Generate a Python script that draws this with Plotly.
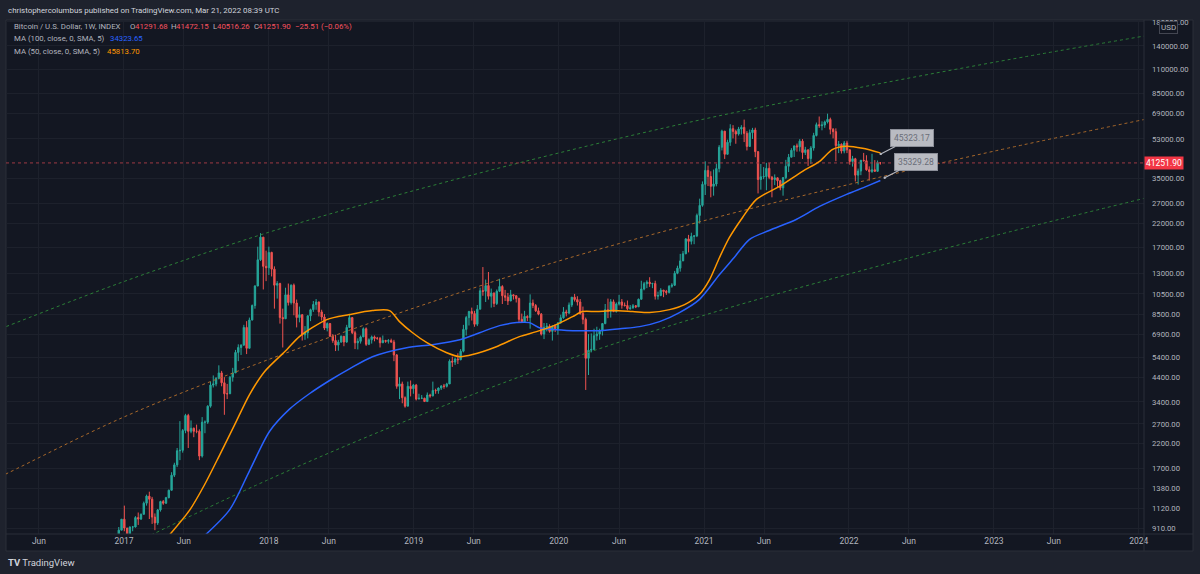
import math
import pandas as pd
import plotly.graph_objects as go

FONT = "Roboto, Liberation Sans, sans-serif"

# ---------------- weekly OHLC (BTCUSD INDEX, 1W) ----------------
first_week = "2016-10-03"
first_open = 610

close_2016 = [615, 640, 655, 700, 705, 700, 730, 730, 765, 775, 790, 890, 998]
high_2016 = [620, 645, 660, 720, 745, 715, 760, 750, 775, 780, 795, 920, 1000]
low_2016 = [605, 610, 625, 650, 680, 690, 690, 725, 725, 750, 765, 790, 890]

close_2017 = [910, 820, 920, 920, 1015, 1000, 1050, 1180, 1270, 1230, 1020, 960, 1100,
              1200, 1180, 1250, 1350, 1580, 1760, 2040, 2050, 2520, 2950, 2500, 2580, 2500,
              2500, 1930, 2750, 2750, 3250, 4050, 4100, 4350, 4600, 4150, 3700, 3700, 4400,
              4600, 5700, 6000, 6150, 7400, 5950, 8000, 9300, 11400, 15000, 19000, 14000, 13800]
high_2017 = [1150, 910, 925, 930, 1030, 1070, 1060, 1200, 1290, 1330, 1260, 1060, 1110,
             1210, 1220, 1260, 1360, 1630, 1800, 2100, 2780, 2560, 3000, 3000, 2800, 2600,
             2680, 2550, 2900, 2800, 3280, 4200, 4480, 4400, 4980, 4700, 4400, 4100, 4450,
             4850, 5850, 6200, 6200, 7600, 7900, 8200, 9400, 11500, 17200, 19800, 19000, 16500]
low_2017 = [880, 760, 820, 880, 915, 940, 990, 1050, 1150, 1000, 950, 890, 940,
            1080, 1160, 1170, 1240, 1350, 1550, 1720, 1850, 2000, 2450, 2100, 2450, 2350,
            2450, 1850, 1900, 2450, 2700, 3200, 3950, 4000, 4300, 4000, 2970, 3500, 3700,
            4200, 4600, 5200, 5550, 6100, 5600, 5950, 7950, 9000, 11400, 14800, 11000, 12000]

close_2018 = [16200, 13600, 11500, 11700, 8200, 8100, 10400, 9600, 11500, 9550, 8200, 8450, 6850,
              7000, 8350, 8900, 9400, 9650, 8700, 8250, 7350, 7700, 6750, 6450, 6150, 6350,
              6750, 6350, 7400, 8200, 7000, 6300, 6400, 6700, 7300, 6200, 6500, 6700, 6600,
              6600, 6300, 6450, 6400, 6450, 6350, 5550, 4000, 4100, 3550, 3250, 4000, 3900]
high_2018 = [17200, 16300, 14000, 12000, 11800, 9000, 11200, 11700, 11600, 11700, 9900, 9200, 8500,
             7500, 8400, 9000, 9750, 9950, 9700, 8900, 8500, 7800, 7750, 6900, 6850, 6500,
             6800, 6750, 7600, 8500, 8200, 7150, 6600, 6800, 7400, 7400, 6600, 6800, 6800,
             6700, 6700, 6800, 6500, 6550, 6580, 6500, 5600, 4400, 4200, 3600, 4200, 4250]
low_2018 = [12800, 12600, 9000, 10000, 7700, 6000, 8100, 9300, 9400, 8400, 7400, 7800, 6450,
            6500, 6600, 7900, 8700, 8900, 8300, 7950, 7200, 7100, 6700, 6300, 5780, 5800,
            6300, 6080, 6300, 7400, 6900, 5900, 5880, 6250, 6700, 6100, 6150, 6250, 6400,
            6500, 6000, 6300, 6300, 6250, 6300, 5200, 3900, 3500, 3350, 3200, 3250, 3600]

close_2019 = [4050, 3500, 3530, 3530, 3410, 3650, 3620, 3830, 3820, 3930, 4010, 4000, 4100,
              5200, 5150, 5320, 5280, 5770, 7250, 8200, 8740, 8550, 7650, 8950, 10850, 10800,
              11450, 10250, 10600, 9500, 10800, 11350, 10300, 10150, 9750, 10400, 10300, 10000, 8050,
              7850, 8300, 8200, 9550, 9300, 8800, 8500, 6900, 7400, 7500, 7100, 7500, 7300]
high_2019 = [4100, 4100, 3700, 3650, 3550, 3750, 3700, 4200, 3900, 3950, 4050, 4100, 4150,
             5300, 5450, 5400, 5650, 5900, 7600, 8350, 8800, 9100, 8800, 9350, 11200, 13900,
             12200, 13200, 11100, 10650, 11000, 12300, 11500, 10950, 10600, 10950, 10450, 10350, 10100,
             8550, 8800, 8400, 10450, 9900, 9450, 9100, 8600, 7750, 7750, 7650, 7550, 7650]
low_2019 = [3700, 3450, 3500, 3500, 3400, 3400, 3550, 3600, 3700, 3700, 3850, 3900, 3950,
            4100, 4900, 5000, 5050, 5250, 5700, 6800, 7550, 7950, 7450, 7500, 8950, 10300,
            9650, 9900, 9100, 9150, 9350, 10700, 9450, 9750, 9350, 9750, 9900, 9600, 7750,
            7750, 7800, 7900, 7300, 9050, 8700, 8400, 6800, 6550, 7100, 7000, 6450, 7050]

close_2020 = [7760, 8180, 8700, 8600, 9350, 10150, 9900, 9650, 8550, 8050, 5360, 5830, 5880,
              6780, 6900, 7120, 7700, 8900, 8750, 9670, 8720, 9450, 9650, 9330, 9300, 9000,
              9070, 9280, 9180, 9930, 11050, 11680, 11870, 11680, 11700, 10250, 10330, 10920, 10780,
              10670, 11380, 11500, 13030, 13740, 14820, 15970, 18650, 18180, 19150, 19250, 23850, 26490]
high_2020 = [7800, 8450, 9150, 8900, 9600, 10150, 10500, 10250, 9950, 9200, 8200, 6900, 6950,
             7300, 7450, 7300, 7750, 9450, 10000, 9950, 9900, 9600, 10400, 9950, 9600, 9800,
             9350, 9450, 9350, 10000, 12050, 11900, 12100, 12500, 11800, 12050, 10750, 11150, 10950,
             10950, 11500, 11750, 13350, 14100, 15950, 16450, 18800, 19450, 19900, 19400, 24300, 28400]
low_2020 = [6850, 7700, 8100, 8300, 8500, 9150, 9700, 9300, 8450, 7650, 3850, 4500, 5700,
            5850, 6450, 6500, 6800, 7650, 8150, 8200, 8700, 8650, 9300, 9000, 9200, 8850,
            8900, 9000, 9050, 9150, 9900, 10900, 11150, 11300, 11150, 9900, 9900, 10250, 10150,
            10400, 10550, 11200, 11400, 12900, 13250, 14800, 15900, 16200, 17600, 17650, 19000, 21900]

close_2021 = [33000, 38150, 35800, 32300, 33100, 38900, 48600, 57500, 45150, 51200, 59000, 57350, 55800,
              58800, 59800, 56150, 49000, 56600, 58200, 46400, 34700, 35700, 35800, 39000, 35500, 34700,
              35300, 34250, 31800, 35400, 39850, 43800, 47100, 49300, 48800, 51800, 46000, 47300, 43200,
              48200, 54950, 61500, 60900, 61300, 63300, 65000, 58600, 57200, 49400, 50100, 46700, 50800]
high_2021 = [34000, 41950, 40100, 37800, 38500, 40950, 49700, 58350, 57500, 52600, 61800, 61200, 58400,
             60100, 61200, 64850, 57500, 58500, 59500, 59600, 46600, 40800, 39500, 41300, 41300, 36000,
             36600, 35400, 34600, 35400, 42600, 45300, 48150, 49300, 50500, 52900, 52900, 48800, 47400,
             49200, 56500, 62900, 67000, 63700, 64200, 69000, 66200, 59400, 59200, 51900, 50600, 51900]
low_2021 = [26100, 29500, 32400, 28800, 29300, 32300, 37400, 47000, 43000, 45000, 49300, 53300, 50400,
            54900, 55500, 51300, 47000, 48800, 53000, 43800, 30000, 31200, 34800, 31000, 34800, 28800,
            32700, 32100, 31000, 29300, 34800, 37500, 43800, 43900, 46400, 46500, 43000, 44800, 40000,
            40800, 46900, 54400, 59500, 58000, 59500, 62300, 55600, 53300, 42000, 45700, 45500, 45600]

close_2022 = [47300, 41900, 43100, 36300, 37900, 42400, 42200, 38400, 37700, 38400, 37800, 41291.68, 41251.90]
high_2022 = [52000, 47600, 44400, 43500, 38900, 42600, 45800, 44700, 39800, 45400, 42500, 42300, 41472.15]
low_2022 = [45700, 40500, 39700, 34000, 32900, 36300, 41900, 38000, 34300, 37200, 37600, 37600, 40516.26]

# ---------------- moving averages ----------------
ma50_dates = ["2017-04-24", "2017-06-16", "2017-07-23", "2017-08-30", "2017-10-07", "2017-11-13",
              "2017-12-21", "2018-02-15", "2018-03-19", "2018-05-27", "2018-07-23", "2018-09-19",
              "2018-11-01", "2018-11-26", "2018-12-29", "2019-02-03", "2019-03-25", "2019-04-27",
              "2019-05-29", "2019-07-28", "2019-09-24", "2019-11-06", "2019-12-26", "2020-02-05",
              "2020-03-01", "2020-04-05", "2020-05-15", "2020-07-05", "2020-08-17", "2020-10-06",
              "2020-11-13", "2020-12-20", "2021-01-15", "2021-02-09", "2021-03-06", "2021-04-08",
              "2021-05-13", "2021-07-10", "2021-09-06", "2021-10-19", "2021-11-21", "2021-12-26",
              "2022-02-04", "2022-03-21"]
ma50_values = [840, 1100, 1430, 1950, 2680, 3660, 4660, 5860, 6720, 8030, 8460, 8820,
               8820, 7860, 7000, 6310, 5680, 5450, 5570, 6050, 6720, 7080, 7620, 8280,
               8730, 8730, 8820, 8730, 8640, 8910, 9390, 10430, 12200, 15360, 18930, 23340,
               28180, 32280, 37780, 41950, 47560, 49090, 48070, 45810]

ma100_dates = ["2017-07-10", "2017-09-24", "2017-11-13", "2018-01-03", "2018-02-22", "2018-04-13",
               "2018-06-03", "2018-07-23", "2018-09-19", "2018-12-14", "2019-02-17", "2019-04-27",
               "2019-06-16", "2019-08-05", "2019-09-17", "2019-10-19", "2019-11-13", "2019-12-26",
               "2020-02-22", "2020-04-13", "2020-06-03", "2020-07-23", "2020-09-11", "2020-10-31",
               "2020-12-20", "2021-02-09", "2021-03-18", "2021-04-25", "2021-06-14", "2021-08-21",
               "2021-10-19", "2021-12-26", "2022-02-14", "2022-03-21"]
ma100_values = [800, 1100, 1650, 2500, 3150, 3700, 4250, 4800, 5450, 5990, 6180, 6510,
                7000, 7540, 7780, 7780, 7380, 7230, 7150, 7150, 7300, 7460, 7860, 8640,
                9890, 12860, 15360, 18530, 20370, 22850, 26190, 29690, 32280, 34320]

# ---------------- channel drawings ----------------
channel_dates = ["2016-01-01", "2016-03-10", "2017-01-01", "2018-01-01", "2019-01-01",
                 "2020-01-01", "2021-01-01", "2022-01-01", "2023-01-01", "2024-01-14"]
upper_channel = [6657, 7459, 11950, 20000, 30890, 45770, 65240, 88720, 118000, 155200]
middle_channel = [1396, 1601, 2903, 5297, 9057, 14800, 22570, 32940, 46640, 64900]
lower_dates = ["2017-01-01", "2018-01-01", "2019-01-01", "2020-01-01", "2021-01-01",
               "2022-01-01", "2023-01-01", "2024-01-14"]
lower_channel = [737, 1512, 2880, 5117, 8402, 12920, 19260, 28480]

# ---------------- labels ----------------
last_price = 41251.90
callout_dates = ["2022-03-22", "2022-04-01"]
callout_prices = [45323.17, 35329.28]

header_text = "christophercolumbus published on TradingView.com, Mar 21, 2022 08:39 UTC"
symbol_text = "Bitcoin / U.S. Dollar, 1W, INDEX"
ohlc_letters = ["O", "H", "L", "C"]
ohlc_values = ["41291.68", "41472.15", "40516.26", "41251.90"]
change_text = "\u221225.51 (\u22120.06%)"
ma_labels = ["MA (100, close, 0, SMA, 5)", "MA (50, close, 0, SMA, 5)"]
ma_values_text = ["34323.65", "45813.70"]

y_ticks = [910, 1120, 1380, 1700, 2200, 2700, 3400, 4400, 5400, 6900, 8500, 10500, 13000,
           17000, 22000, 27000, 35000, 53000, 69000, 85000, 110000, 140000, 180000]
x_tick_dates = ["2016-06-01", "2017-01-01", "2017-06-01", "2018-01-01", "2018-06-01",
                "2019-01-01", "2019-06-01", "2020-01-01", "2020-06-01", "2021-01-01",
                "2021-06-01", "2022-01-01", "2022-06-01", "2023-01-01", "2023-06-01", "2024-01-01"]
x_tick_text = ["Jun", "2017", "Jun", "2018", "Jun", "2019", "Jun", "2020", "Jun", "2021",
               "Jun", "2022", "Jun", "2023", "Jun", "2024"]

# ---------------- assemble ----------------
closes = close_2016 + close_2017 + close_2018 + close_2019 + close_2020 + close_2021 + close_2022
highs = high_2016 + high_2017 + high_2018 + high_2019 + high_2020 + high_2021 + high_2022
lows = low_2016 + low_2017 + low_2018 + low_2019 + low_2020 + low_2021 + low_2022
assert len(closes) == len(highs) == len(lows), (len(closes), len(highs), len(lows))
opens = [first_open] + closes[:-1]
weeks = pd.date_range(first_week, periods=len(closes), freq="7D")

X_RANGE = ["2016-03-10", "2024-01-14"]
Y_RANGE = [math.log10(855), math.log10(183600)]

BG = "#131722"
PAPER = "#1e222d"
BORDER = "#2a2e39"
GRID = "#1d212c"
TXT = "#b2b5be"
RED_TXT = "#f7525f"
BLUE = "#2962ff"
ORANGE = "#ff9800"

fig = go.Figure()

dot = dict(width=1, dash="dot", shape="spline")
fig.add_trace(go.Scatter(x=channel_dates, y=upper_channel, mode="lines",
                         line=dict(color="#2b7f37", **dot), hoverinfo="skip"))
fig.add_trace(go.Scatter(x=channel_dates, y=middle_channel, mode="lines",
                         line=dict(color="#a8682a", **dot), hoverinfo="skip"))
fig.add_trace(go.Scatter(x=lower_dates, y=lower_channel, mode="lines",
                         line=dict(color="#2b7f37", **dot), hoverinfo="skip"))
fig.add_trace(go.Scatter(x=X_RANGE, y=[last_price, last_price], mode="lines",
                         line=dict(color="#9e3a44", width=1, dash="dot"), hoverinfo="skip"))

fig.add_trace(go.Candlestick(
    x=weeks, open=opens, high=highs, low=lows, close=closes,
    increasing=dict(line=dict(color="#26a69a", width=1), fillcolor="#26a69a"),
    decreasing=dict(line=dict(color="#ef5350", width=1), fillcolor="#ef5350"),
    whiskerwidth=0, hoverinfo="skip"))

fig.add_trace(go.Scatter(x=ma100_dates, y=ma100_values, mode="lines",
                         line=dict(color=BLUE, width=1.5, shape="spline", smoothing=0.8),
                         hoverinfo="skip"))
fig.add_trace(go.Scatter(x=ma50_dates, y=ma50_values, mode="lines",
                         line=dict(color=ORANGE, width=1.5, shape="spline", smoothing=0.8),
                         hoverinfo="skip"))

L, R, T, B = 6, 56, 20, 40
PW, PH = 1200 - L - R, 574 - T - B


def px(xp):
    return (xp - L) / PW


def py(yp):
    return (574 - B - yp) / PH


def label(text, xp, yp, color=TXT, size=7.8):
    return dict(xref="paper", yref="paper", x=px(xp), y=py(yp), xanchor="left",
                yanchor="middle", text=text, showarrow=False,
                font=dict(family=FONT, size=size, color=color))


shapes = [
    dict(type="rect", xref="paper", yref="paper", x0=0, x1=px(1193), y0=py(551), y1=1,
         fillcolor=BG, line=dict(color=BORDER, width=1), layer="below"),
    dict(type="line", xref="paper", yref="paper", x0=1, x1=1, y0=py(551), y1=1,
         line=dict(color=BORDER, width=1)),
    dict(type="line", xref="paper", yref="paper", x0=0, x1=px(1193), y0=0, y1=0,
         line=dict(color=BORDER, width=1)),
]

annotations = [label(header_text, 6, 10, color="#d1d4dc", size=7.9),
               label(symbol_text, 12, 27)]
letter_x = [128, 169, 211, 251.5]
value_x = [132.5, 173.5, 215, 256]
for lt, vt, lx, vx in zip(ohlc_letters, ohlc_values, letter_x, value_x):
    annotations.append(label(lt, lx, 27))
    annotations.append(label(vt, vx, 27, color=RED_TXT))
annotations.append(label(change_text, 293, 27, color=RED_TXT))
annotations.append(label(ma_labels[0], 12, 39))
annotations.append(label(ma_values_text[0], 108, 39, color=BLUE))
annotations.append(label(ma_labels[1], 12, 51))
annotations.append(label(ma_values_text[1], 105, 51, color=ORANGE))

annotations += [
    dict(xref="paper", yref="y", x=1, y=math.log10(last_price), xanchor="left", yanchor="middle",
         text=f"{last_price:.2f}", showarrow=False, bgcolor="#f23645", borderpad=1,
         font=dict(family=FONT, size=8.5, color="#ffffff")),
    dict(xref="paper", yref="paper", x=px(1169), y=py(28), xanchor="center", yanchor="middle",
         text="USD", showarrow=False, bgcolor=BG, bordercolor="#434651", borderwidth=1, borderpad=1,
         font=dict(family=FONT, size=8, color=TXT)),
    label("<b>TV</b> TradingView", 6, 562, color="#d1d4dc", size=9.5),
]
for d, p in zip(callout_dates, callout_prices):
    annotations.append(dict(
        x=d, y=math.log10(p), xref="x", yref="y", text=f"{p:.2f}", showarrow=True,
        ax=31, ay=-16, arrowhead=6, arrowsize=0.5, arrowwidth=1.2, arrowcolor="#b2b5be",
        bgcolor="#b9bbc2", bordercolor="#8c8f99", borderwidth=1, borderpad=3,
        font=dict(family=FONT, size=8.5, color="#6a6d78")))

fig.update_layout(
    width=1200, height=574, margin=dict(l=L, r=R, t=T, b=B),
    paper_bgcolor=PAPER, plot_bgcolor=BG, showlegend=False, hovermode=False,
    shapes=shapes, annotations=annotations,
    xaxis=dict(type="date", range=X_RANGE, tickvals=x_tick_dates, ticktext=x_tick_text,
               showgrid=True, gridcolor=GRID, gridwidth=1, zeroline=False, showline=False,
               ticks="", tickfont=dict(family=FONT, size=8.5, color=TXT),
               rangeslider=dict(visible=False), fixedrange=True),
    yaxis=dict(type="log", range=Y_RANGE, side="right", tickvals=y_ticks,
               ticktext=[f"{v:.2f}" for v in y_ticks], showgrid=True, gridcolor=GRID,
               gridwidth=1, zeroline=False, showline=False, ticks="", ticklabelstandoff=7,
               tickfont=dict(family=FONT, size=7.7, color=TXT), fixedrange=True),
)

fig.write_html("out.html", config={"displayModeBar": False})
